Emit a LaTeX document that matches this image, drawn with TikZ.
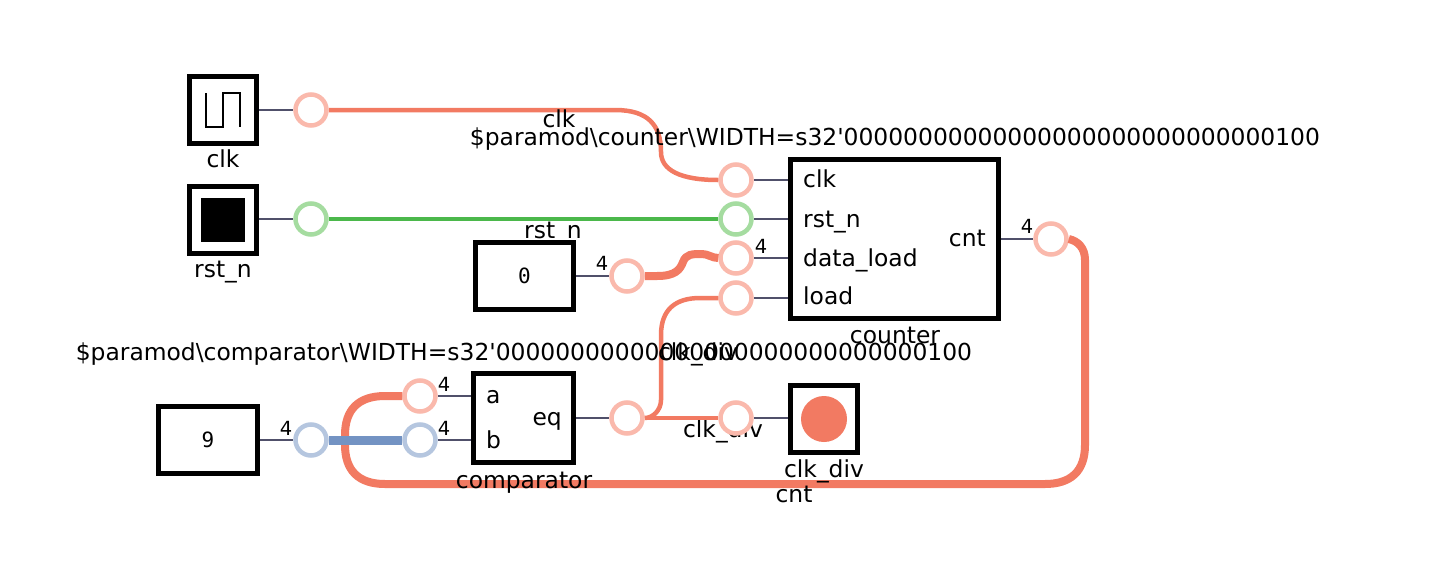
\documentclass[tikz,border=0pt]{standalone}
\usepackage{fontspec}
\setmainfont{DejaVu Sans}[Ligatures=TeXOff]
\setmonofont{DejaVu Sans Mono}
\definecolor{wireorange}{HTML}{F27A62}
\definecolor{ptorange}{HTML}{FAB9AC}
\definecolor{wiregreen}{HTML}{4BB84B}
\definecolor{ptgreen}{HTML}{A5DCA0}
\definecolor{wireblue}{HTML}{7393C3}
\definecolor{ptblue}{HTML}{B5C6DF}
\definecolor{stubgray}{HTML}{50506A}
\tikzset{
  gatebox/.style={draw=black,line width=5pt,fill=white,inner sep=0pt},
  wirept/.style={circle,draw=ptorange,line width=4.5pt,fill=white,minimum size=31pt,inner sep=0pt},
  stub/.style={draw=stubgray,line width=2.2pt},
  wire/.style={draw=wireorange,line width=4.5pt},
  lbl/.style={inner sep=0pt,anchor=base,font=\fontsize{23.4}{26}\selectfont},
  num/.style={inner sep=0pt,anchor=base,font=\fontsize{19.5}{22}\selectfont},
  constval/.style={font=\ttfamily\fontsize{21}{23}\selectfont}
}
\begin{document}
\begin{tikzpicture}[x=1pt,y=-1pt]
  \useasboundingbox (0,0) rectangle (1434,560);

  % boxes
  \node[gatebox,minimum width=67pt,minimum height=67pt] (clkin) at (223,110) {};
  \node[gatebox,minimum width=67pt,minimum height=67pt] (rstin) at (223,220) {};
  \node[gatebox,constval,minimum width=98pt,minimum height=67pt] (zero) at (524.5,276) {0};
  \node[gatebox,constval,minimum width=99pt,minimum height=67pt] (nine) at (208,440) {9};
  \node[gatebox,minimum width=208pt,minimum height=159pt] (counter) at (894.5,239) {};
  \node[gatebox,minimum width=100pt,minimum height=89pt] (comparator) at (523.5,418) {};
  \node[gatebox,minimum width=67pt,minimum height=67pt] (clkout) at (824,419) {};

  % box contents
  \draw[black,line width=2pt] (206,93) -- (206,127) -- (223,127) -- (223,93) -- (240,93) -- (240,127);
  \fill[black] (201,198) rectangle (245,242);
  \fill[wireorange] (clkout) circle (23);

  % this label lies under its wire point
  \node[lbl] (ldiva) at (723,437) {clk\_div};

  % wire points
  \node[wirept] (wclka) at (311,110) {};
  \node[wirept,draw=ptgreen] (wrsta) at (311,219) {};
  \node[wirept] (wclkb) at (736,180) {};
  \node[wirept,draw=ptgreen] (wrstb) at (736,219) {};
  \node[wirept] (wdata) at (736,258) {};
  \node[wirept] (wload) at (736,298) {};
  \node[wirept] (wcnt) at (1051,239) {};
  \node[wirept] (wzero) at (627,276) {};
  \node[wirept] (wa) at (420,396) {};
  \node[wirept,draw=ptblue] (wb) at (420,440) {};
  \node[wirept,draw=ptblue] (wnine) at (311,440) {};
  \node[wirept] (weq) at (627,418) {};
  \node[wirept] (wdiv) at (736,418) {};

  % stubs
  \draw[stub] (clkin.east |- wclka) -- (wclka.west);
  \draw[stub] (rstin.east |- wrsta) -- (wrsta.west);
  \draw[stub] (zero.east) -- (wzero.west);
  \draw[stub] (nine.east) -- (wnine.west);
  \draw[stub] (wclkb.east) -- (counter.west |- wclkb);
  \draw[stub] (wrstb.east) -- (counter.west |- wrstb);
  \draw[stub] (wdata.east) -- (counter.west |- wdata);
  \draw[stub] (wload.east) -- (counter.west |- wload);
  \draw[stub] (counter.east |- wcnt) -- (wcnt.west);
  \draw[stub] (wa.east) -- (comparator.west |- wa);
  \draw[stub] (wb.east) -- (comparator.west |- wb);
  \draw[stub] (comparator.east |- weq) -- (weq.west);
  \draw[stub] (wdiv.east) -- (clkout.west |- wdiv);

  % wires
  \draw[wire] (wclka.east) -- (615,110) .. controls (648,110) and (661,125) .. (661,152)
    .. controls (661,170) and (680,180) .. (wclkb.west);
  \draw[wire,draw=wiregreen] (wrsta.east) -- (wrstb.west);
  \draw[wire,line width=8pt] (wzero.east) -- (657,276) .. controls (675,276) and (680,270) .. (683,262)
    .. controls (686,254) and (692,254) .. (702,254) .. controls (708,254) and (712,258) .. (wdata.west);
  \draw[wire] (weq.east) -- (wdiv.west);
  \draw[wire] (weq.east) .. controls (653,418) and (661,410) .. (661,400) -- (661,335)
    .. controls (661,310) and (675,298) .. (700,298) -- (wload.west);
  \draw[wire,line width=8pt] (wcnt.east) .. controls (1078,241) and (1085,248) .. (1085,260) -- (1085,445)
    .. controls (1085,472) and (1070,484) .. (1045,484) -- (385,484)
    .. controls (358,484) and (345,470) .. (345,445) -- (345,435)
    .. controls (345,410) and (358,396) .. (385,396) -- (wa.west);
  \draw[wire,draw=wireblue,line width=9pt] (wnine.east) -- (wb.west);

  % labels
  \node[lbl] (lclka) at (223,167) {clk};
  \node[lbl] (lrsta) at (223,277) {rst\_n};
  \node[lbl] (lclkb) at (559,127.5) {clk};
  \node[lbl] (lrstb) at (553,238) {rst\_n};
  \node[lbl] (lcounter) at (895,145) {\$paramod\textbackslash counter\textbackslash WIDTH=s32'00000000000000000000000000000100};
  \node[lbl] (lcomparator) at (524,360) {\$paramod\textbackslash comparator\textbackslash WIDTH=s32'00000000000000000000000000000100};
  \node[lbl] (ldivc) at (698,360) {clk\_div};
  \node[lbl] (lcntr) at (895,343) {counter};
  \node[lbl] (lcmp) at (524,488) {comparator};
  \node[lbl] (ldivb) at (824,477) {clk\_div};
  \node[lbl] (lcnt) at (794,502) {cnt};
  \node[lbl,anchor=base west] (lpclk) at (803,187) {clk};
  \node[lbl,anchor=base west] (lprst) at (803,227) {rst\_n};
  \node[lbl,anchor=base west] (lpdata) at (803,266) {data\_load};
  \node[lbl,anchor=base west] (lpload) at (803,304) {load};
  \node[lbl,anchor=base east] (lpcnt) at (986,246) {cnt};
  \node[lbl,anchor=base west] (lpa) at (486,403) {a};
  \node[lbl,anchor=base west] (lpb) at (486,448) {b};
  \node[lbl,anchor=base east] (lpeq) at (562,425) {eq};

  % widths
  \node[num] (nzero) at (602,270) {4};
  \node[num] (ndata) at (761,253) {4};
  \node[num] (ncnt) at (1027,233) {4};
  \node[num] (na) at (444,391) {4};
  \node[num] (nb) at (444,435) {4};
  \node[num] (nnine) at (286,435) {4};
\end{tikzpicture}
\end{document}
